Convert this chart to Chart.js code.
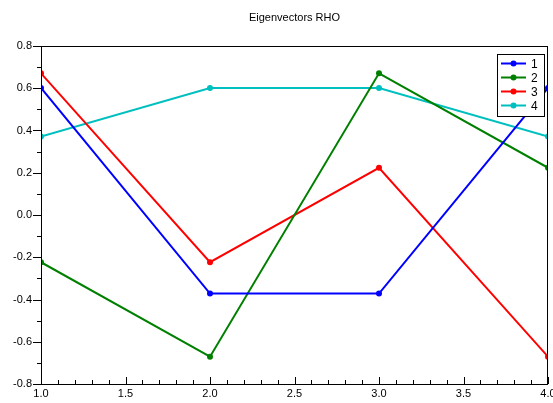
<!DOCTYPE html>
<html>
<head>
<meta charset="utf-8">
<script src="https://cdn.jsdelivr.net/npm/chart.js@4"></script>
<style>
  html, body { margin: 0; padding: 0; background: #fff; }
  #wrap { width: 553px; height: 403px; }
</style>
</head>
<body>
<div id="wrap"><canvas id="chart"></canvas></div>
<script>
// x positions and the four eigenvector series
const xValues = [1, 2, 3, 4];
const series1 = [0.6015, -0.3717, -0.3717, 0.6015];
const series2 = [-0.2236, -0.6708, 0.6708, 0.2236];
const series3 = [0.6708, -0.2236, 0.2236, -0.6708];
const series4 = [0.3717, 0.6015, 0.6015, 0.3717];
const seriesNames = ["1", "2", "3", "4"];
const seriesColors = ["#0000ff", "#008000", "#ff0000", "#00bfbf"];

const FONT = "Liberation Sans";

function toPoints(values) {
  return values.map((v, i) => ({ x: xValues[i], y: v }));
}

// Box around plot, minor/major ticks and the inside legend
const framePlugin = {
  id: "frame",
  afterDraw(chart) {
    const { ctx, chartArea: a, scales } = chart;
    ctx.save();
    ctx.strokeStyle = "#000";
    ctx.lineWidth = 1;
    ctx.strokeRect(a.left + 0.5, a.top + 0.5, a.right - a.left - 1, a.bottom - a.top);

    ctx.beginPath();
    // y ticks, outward; major every 0.2, minor between
    for (let i = -8; i <= 8; i++) {
      const y = Math.round(scales.y.getPixelForValue(i / 10)) + 0.5;
      const len = i % 2 === 0 ? 8 : 4;
      ctx.moveTo(a.left, y);
      ctx.lineTo(a.left - len, y);
    }
    // x ticks, inward; major every 0.5, minor every 0.1
    for (let i = 10; i <= 40; i++) {
      const x = Math.round(scales.x.getPixelForValue(i / 10)) + 0.5;
      const len = i % 5 === 0 ? 7 : 4;
      ctx.moveTo(x, a.bottom);
      ctx.lineTo(x, a.bottom - len);
    }
    ctx.stroke();

    // legend
    const lx = 497, ly = 54, lw = 47, lh = 62;
    ctx.fillStyle = "#fff";
    ctx.fillRect(lx, ly, lw, lh);
    ctx.strokeStyle = "#000";
    ctx.strokeRect(lx + 0.5, ly + 0.5, lw, lh);
    ctx.font = "12px '" + FONT + "'";
    ctx.textBaseline = "middle";
    seriesNames.forEach((name, i) => {
      const y = ly + 9.5 + i * 14;
      ctx.strokeStyle = seriesColors[i];
      ctx.lineWidth = 2;
      ctx.beginPath();
      ctx.moveTo(501, y);
      ctx.lineTo(526, y);
      ctx.stroke();
      ctx.fillStyle = seriesColors[i];
      ctx.beginPath();
      ctx.arc(513.5, y, 3, 0, Math.PI * 2);
      ctx.fill();
      ctx.fillStyle = "#000";
      ctx.fillText(name, 531, y + 1);
    });
    ctx.restore();
  }
};

const allSeries = [series1, series2, series3, series4];

new Chart(document.getElementById("chart"), {
  type: "line",
  data: {
    datasets: allSeries.map((vals, i) => ({
      label: seriesNames[i],
      data: toPoints(vals),
      borderColor: seriesColors[i],
      backgroundColor: seriesColors[i],
      borderWidth: 2,
      pointRadius: 3,
      pointBorderWidth: 0,
      tension: 0,
      clip: 0,
    })),
  },
  options: {
    responsive: true,
    maintainAspectRatio: false,
    animation: false,
    layout: { padding: { left: 0, right: 5, top: 0, bottom: 0 } },
    plugins: {
      legend: { display: false },
      tooltip: { enabled: false },
      title: {
        display: true,
        text: "Eigenvectors RHO",
        fullSize: false,
        color: "#000",
        font: { family: FONT, size: 11, weight: "normal" },
        padding: { top: 11, bottom: 21.8 },
      },
    },
    scales: {
      x: {
        type: "linear",
        min: 1,
        max: 4,
        grid: { display: false, drawTicks: false },
        border: { display: false },
        ticks: {
          stepSize: 0.5,
          padding: 3,
          maxRotation: 0,
          color: "#000",
          font: { family: FONT, size: 11 },
          callback: (v) => v.toFixed(1),
        },
        afterFit(scale) {
          scale.height = 19;
          scale.paddingLeft = 0;
          scale.paddingRight = 0;
        },
      },
      y: {
        min: -0.8,
        max: 0.8,
        grid: { display: false, drawTicks: false },
        border: { display: false },
        ticks: {
          stepSize: 0.2,
          padding: 9,
          color: "#000",
          font: { family: FONT, size: 11 },
          callback: (v) => v.toFixed(1),
        },
        afterFit(scale) {
          scale.width = 41;
          scale.paddingTop = 0;
          scale.paddingBottom = 0;
        },
      },
    },
  },
  plugins: [framePlugin],
});
</script>
</body>
</html>
